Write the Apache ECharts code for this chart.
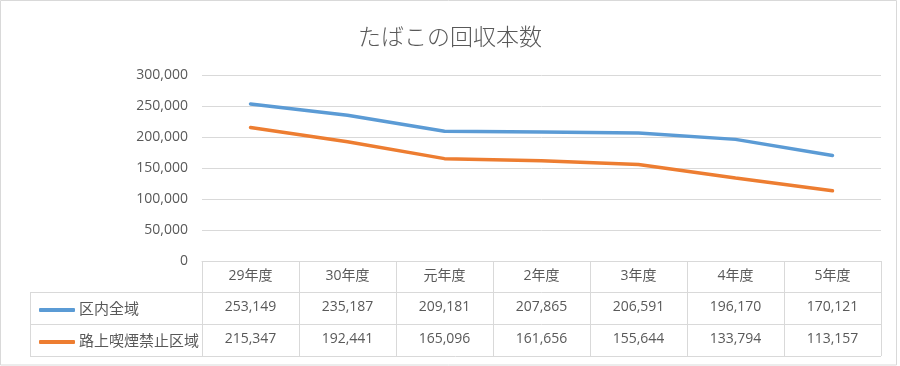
<!DOCTYPE html>
<html><head><meta charset="utf-8">
<script src="https://cdn.jsdelivr.net/npm/echarts@6/dist/echarts.min.js"></script>
<style>html,body{margin:0;padding:0;background:#fff}#c{width:900px;height:366px}</style>
</head><body><div id="c"></div>
<script>
const categories = ['29年度','30年度','元年度','2年度','3年度','4年度','5年度'];
const seriesNames = ['区内全域','路上喫煙禁止区域'];
const allArea = [253149,235187,209181,207865,206591,196170,170121];
const noSmokingArea = [215347,192441,165096,161656,155644,133794,113157];
const yTicks = {min:0, max:300000, interval:50000};

const fmt = v => Number(v).toLocaleString('en-US');
const FONT = "'Open Sans','Noto Sans CJK JP',sans-serif";
const TXT = '#595959';
const GRID = '#d9d9d9';

const chart = echarts.init(document.getElementById('c'));
const lineStyle = {stroke: GRID, lineWidth: 1};
chart.setOption({
  animation:false,
  title:{text:'たばこの回収本数', left:'center', top:20,
    textStyle:{fontFamily:"'Noto Sans CJK JP',sans-serif", fontSize:23, fontWeight:300, color:TXT}},
  grid:{left:202, right:19, top:75, bottom:105},
  legend:{orient:'vertical', left:34, top:289, itemGap:0, itemWidth:36, itemHeight:4,
    icon:'roundRect',
    textStyle:{fontFamily:FONT, fontSize:15, color:TXT, lineHeight:32, padding:[0,0,0,-1]},
    data:seriesNames},
  xAxis:[
    {type:'category', data:categories, boundaryGap:true, position:'bottom',
     axisLine:{show:true, lineStyle:{color:GRID}},
     axisTick:{show:true, length:95, lineStyle:{color:GRID}},
     axisLabel:{margin:8, fontFamily:FONT, fontSize:14, color:TXT}},
    {type:'category', data:allArea.map(fmt), boundaryGap:true, position:'bottom', offset:31,
     axisLine:{show:true, lineStyle:{color:GRID}}, axisTick:{show:false},
     axisLabel:{margin:8, fontFamily:FONT, fontSize:14, color:TXT}},
    {type:'category', data:noSmokingArea.map(fmt), boundaryGap:true, position:'bottom', offset:63,
     axisLine:{show:true, lineStyle:{color:GRID}}, axisTick:{show:false},
     axisLabel:{margin:8, fontFamily:FONT, fontSize:14, color:TXT}}
  ],
  yAxis:{type:'value', min:yTicks.min, max:yTicks.max, interval:yTicks.interval,
    axisLine:{show:false}, axisTick:{show:false},
    axisLabel:{formatter:v=>fmt(v), fontFamily:FONT, fontSize:14, color:TXT, margin:14},
    splitLine:{lineStyle:{color:GRID}}},
  series:[
    {name:seriesNames[0], type:'line', data:allArea, xAxisIndex:0, showSymbol:false, symbol:'none',
     lineStyle:{width:3.5, color:'#5B9BD5', cap:'round'}, itemStyle:{color:'#5B9BD5'}},
    {name:seriesNames[1], type:'line', data:noSmokingArea, xAxisIndex:0, showSymbol:false, symbol:'none',
     lineStyle:{width:3.5, color:'#ED7D31', cap:'round'}, itemStyle:{color:'#ED7D31'}}
  ],
  graphic:[
    {type:'rect', shape:{x:0.5, y:0.5, width:896, height:364.5}, style:{fill:'none', stroke:GRID, lineWidth:1}, silent:true},
    {type:'line', shape:{x1:30, y1:292.5, x2:202, y2:292.5}, style:lineStyle, silent:true},
    {type:'line', shape:{x1:30, y1:324.5, x2:202, y2:324.5}, style:lineStyle, silent:true},
    {type:'line', shape:{x1:30, y1:356.5, x2:881, y2:356.5}, style:lineStyle, silent:true},
    {type:'line', shape:{x1:30.5, y1:292, x2:30.5, y2:357}, style:lineStyle, silent:true}
  ]
});
</script></body></html>
